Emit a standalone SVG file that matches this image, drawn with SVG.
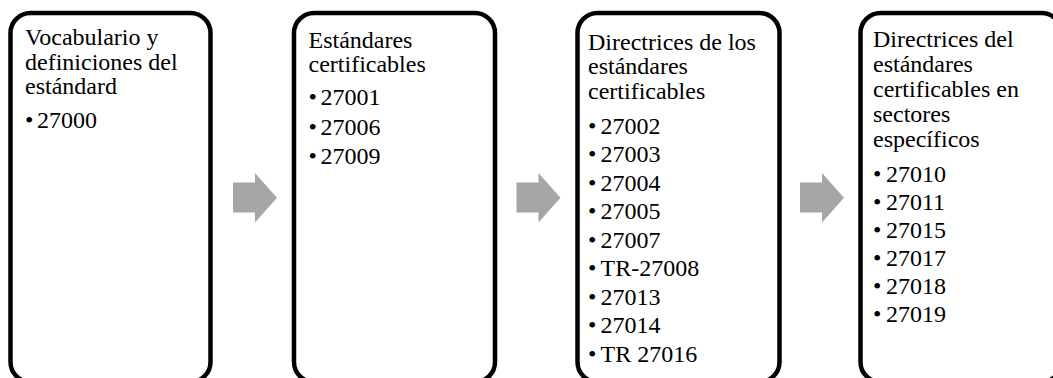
<svg xmlns="http://www.w3.org/2000/svg" width="1053" height="378" viewBox="0 0 1053 378">
<style>
.box{fill:#ffffff;stroke:#000000;stroke-width:4.5}
.arr{fill:#a6a6a6;stroke:none}
.t{font-family:'Liberation Serif','Times New Roman',serif;font-size:24px;fill:#000000}
</style>
<rect width="1053" height="378" fill="#ffffff"/>
<g id="connectors">
<polygon class="arr" points="233,182.5 255,182.5 255,173 277,197.75 255,222.5 255,212.5 233,212.5"/>
<polygon class="arr" points="516.5,182.5 538.5,182.5 538.5,173 560.5,197.75 538.5,222.5 538.5,212.5 516.5,212.5"/>
<polygon class="arr" points="800,182.5 822,182.5 822,173 844,197.75 822,222.5 822,212.5 800,212.5"/>
</g>
<g id="node1" class="t">
<rect class="box" x="10.5" y="13" width="200" height="369" rx="20"/>
<text x="25" y="45">Vocabulario y</text>
<text x="25" y="69.5">definiciones del</text>
<text x="25" y="94">estándard</text>
<text x="25" y="128">•</text><text x="37" y="128">27000</text>
</g>
<g id="node2" class="t">
<rect class="box" x="294" y="13" width="201" height="369" rx="20"/>
<text x="308.5" y="48.3">Estándares</text>
<text x="308.5" y="71.7">certificables</text>
<text x="308.5" y="105">•</text><text x="320.5" y="105">27001</text>
<text x="308.5" y="134.5">•</text><text x="320.5" y="134.5">27006</text>
<text x="308.5" y="164">•</text><text x="320.5" y="164">27009</text>
</g>
<g id="node3" class="t">
<rect class="box" x="577.5" y="13" width="202" height="369" rx="20"/>
<text x="588" y="49.5">Directrices de los</text>
<text x="588" y="74">estándares</text>
<text x="588" y="98.5">certificables</text>
<text x="588" y="133.5">•</text><text x="600.5" y="133.5">27002</text>
<text x="588" y="162">•</text><text x="600.5" y="162">27003</text>
<text x="588" y="190.5">•</text><text x="600.5" y="190.5">27004</text>
<text x="588" y="219">•</text><text x="600.5" y="219">27005</text>
<text x="588" y="247.5">•</text><text x="600.5" y="247.5">27007</text>
<text x="588" y="276">•</text><text x="600.5" y="276">TR-27008</text>
<text x="588" y="304.5">•</text><text x="600.5" y="304.5">27013</text>
<text x="588" y="333">•</text><text x="600.5" y="333">27014</text>
<text x="588" y="361.5">•</text><text x="600.5" y="361.5">TR 27016</text>
</g>
<g id="node4" class="t">
<rect class="box" x="860.5" y="13" width="201" height="369" rx="20"/>
<text x="873" y="47.3">Directrices del</text>
<text x="873" y="72.2">estándares</text>
<text x="873" y="97.1">certificables en</text>
<text x="873" y="122">sectores</text>
<text x="873" y="146.7">específicos</text>
<text x="873" y="181.7">•</text><text x="886" y="181.7">27010</text>
<text x="873" y="209.7">•</text><text x="886" y="209.7">27011</text>
<text x="873" y="237.7">•</text><text x="886" y="237.7">27015</text>
<text x="873" y="265.7">•</text><text x="886" y="265.7">27017</text>
<text x="873" y="293.7">•</text><text x="886" y="293.7">27018</text>
<text x="873" y="321.7">•</text><text x="886" y="321.7">27019</text>
</g>
</svg>
